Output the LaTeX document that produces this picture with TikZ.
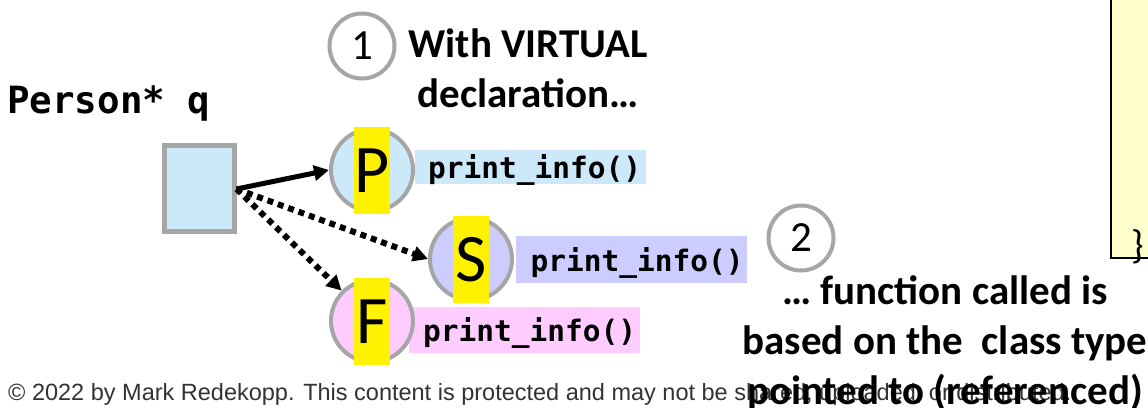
\documentclass[tikz,border=0pt]{standalone}
\usepackage{fontspec}
\setmainfont{Carlito}
\newfontfamily\codefont{DejaVu Sans Mono}
\newfontfamily\footfont{Liberation Sans}
\usetikzlibrary{arrows.meta}
\definecolor{lblue}{HTML}{CCE9FA}
\definecolor{llav}{HTML}{CCCCFF}
\definecolor{lpink}{HTML}{FFCCFF}
\definecolor{ring}{HTML}{A6A6A6}
\definecolor{codebg}{HTML}{FFFFCC}
\tikzset{
  objcircle/.style={circle, draw=ring, line width=4pt, minimum size=82pt, inner sep=0pt},
  letterbar/.style={fill=yellow, minimum width=36pt, minimum height=87pt, inner sep=0pt,
     font=\fontsize{68}{70}\selectfont},
  funclabel/.style={anchor=west, minimum width=231pt, inner sep=0pt, text depth=0pt,
     font=\codefont\bfseries\fontsize{29.5}{30}\selectfont},
  numcircle/.style={circle, draw=ring, line width=4pt, minimum size=65pt, inner sep=0pt,
     font=\fontsize{43}{44}\selectfont},
  boldnote/.style={font=\bfseries\fontsize{41}{50}\selectfont, align=center},
  ptr/.style={line width=5pt, -{Triangle[length=15pt,width=15pt]}},
  dptr/.style={line width=6pt, dash pattern=on 6pt off 5pt, -{Triangle[length=15pt,width=15pt]}}
}
\begin{document}
\begin{tikzpicture}[x=1pt,y=-1pt]
\useasboundingbox (0,0) rectangle (1148,407);
\fill[white] (0,0) rectangle (1148,407);
% code box at right edge
\draw[fill=codebg, line width=2pt] (1160,-10) -- (1111,-10) -- (1111,258) -- (1160,258);
\node[anchor=south west, inner sep=0pt, font=\fontsize{40}{40}\selectfont] (brace) at (1131,264) {\}};
% pointer variable
\node[anchor=base west, inner sep=0pt, font=\codefont\bfseries\fontsize{37.5}{38}\selectfont] (pname) at (7,113) {Person* q};
\node[draw=ring, fill=lblue, line width=5pt, minimum width=70pt, minimum height=86pt, inner sep=0pt] (sq) at (199,188) {};
% labels
\node[funclabel, fill=lblue, minimum height=34pt] (pl) at (415,167) {\hspace*{8pt}print\_info()\hfill};
\node[funclabel, fill=llav, minimum height=47pt] (sl) at (516,259.5) {\hspace*{11pt}print\_info()\hfill};
\node[funclabel, fill=lpink, minimum height=46pt] (fl) at (409,330) {\hspace*{10pt}print\_info()\hfill};
% objects
\node[objcircle, fill=lblue] (pc) at (372,170) {};
\node[letterbar] (pt) at (372,170.5) {P};
\node[objcircle, fill=llav] (sc) at (471,259) {};
\node[letterbar] (st) at (471,259.5) {S};
\node[objcircle, fill=lpink] (fc) at (372,321) {};
\node[letterbar] (ft) at (372,321.5) {F};
% arrows
\coordinate (src) at ([yshift=-1pt]sq.east);
\draw[ptr] (src) -- (pc.west);
\draw[dptr] (src) -- (sc.west);
\draw[dptr] (src) -- (fc.north west);
% numbered notes
\node[numcircle] (n1) at (362,46) {1};
\node[boldnote] (t1) at (528,68) {With VIRTUAL\\declaration…};
\node[numcircle] (n2) at (801,238) {2};
% footer
\node[anchor=base west, inner sep=0pt, text=black!80, font=\footfont\fontsize{23.5}{24}\selectfont] (foot) at (8,400) {© 2022 by Mark Redekopp. This content is protected and may not be shared, uploaded, or distributed.};
\node[boldnote] (t2) at (945,343) {… function called is\\based on the~ class type\\pointed to (referenced)};
\end{tikzpicture}
\end{document}
